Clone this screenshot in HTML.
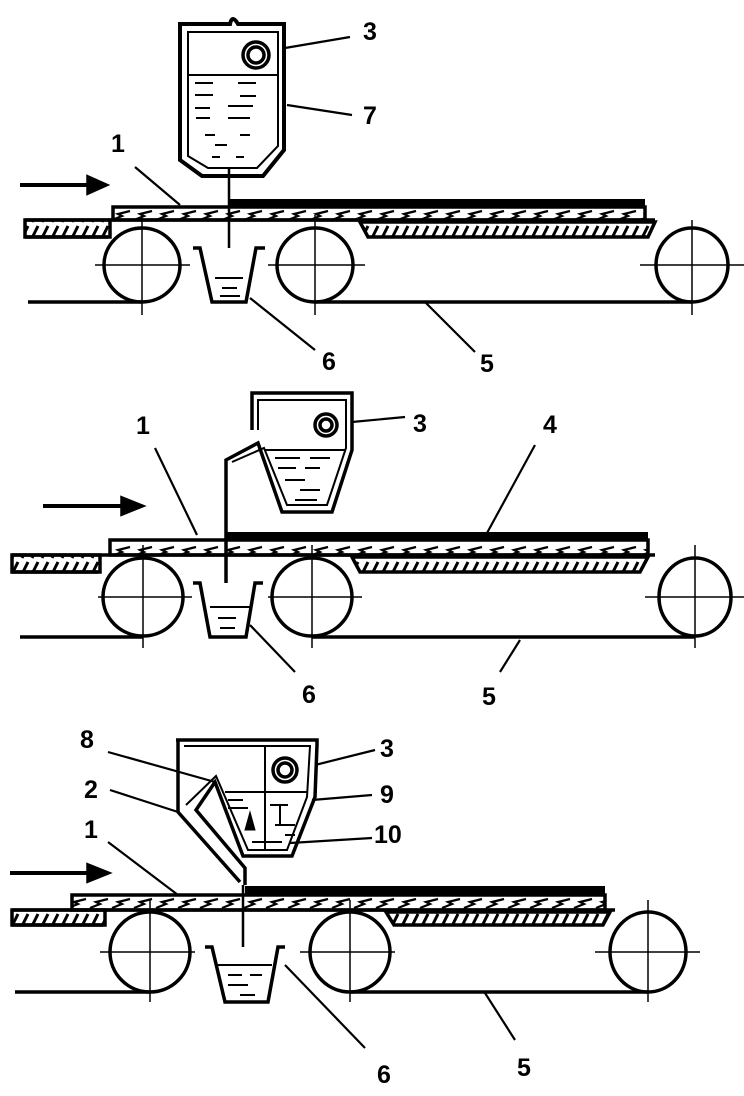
<!DOCTYPE html>
<html><head><style>html,body{margin:0;padding:0;background:#fff}svg{display:block}
text{font-family:"Liberation Sans",sans-serif;font-weight:bold;font-size:25px;fill:#000}</style></head>
<body>
<svg width="744" height="1096" viewBox="0 0 744 1096" xmlns="http://www.w3.org/2000/svg">
<defs>
<pattern id="h" width="10" height="16" patternUnits="userSpaceOnUse"><line x1="2" y1="14" x2="8" y2="2" stroke="#000" stroke-width="3"/></pattern>
<pattern id="w" width="22" height="16" patternUnits="userSpaceOnUse"><path d="M2 12 L12 8 L8 6 L20 3" stroke="#000" stroke-width="2.2" fill="none"/></pattern>
</defs>
<g stroke="#000" fill="none" stroke-width="3.5">
<!-- ===== Panel 1 ===== -->
<path d="M20 185 H95" stroke-width="4"/><path d="M88 177 L106 185 L88 193 Z" fill="#000"/>
<path d="M180 24 H230 Q232 14 238 24 H284 V150 L263 176 H202 L180 160 Z" stroke-width="4"/>
<path d="M188 32 H278 V146 L257 168 H208 L188 156 Z" stroke-width="2"/>
<circle cx="256" cy="55" r="13"/><circle cx="256" cy="55" r="8"/>
<line x1="188" y1="75" x2="278" y2="75" stroke-width="2"/>
<g stroke-width="2"><path d="M195 83h18M238 83h18M195 95h18M240 96h16M195 108h15M228 106h25M196 118h14M228 118h22M205 135h10M240 135h10M215 145h12M212 157h8M236 157h8"/></g>
<line x1="229" y1="168" x2="229" y2="290" stroke-width="2.5"/>
<rect x="25" y="220" width="85" height="17" fill="url(#h)"/>
<path d="M25 220 H655 M25 237 H108" />
<path d="M360 222 L368 237 H648 L655 222 Z" fill="url(#h)"/>
<rect x="113" y="207" width="532" height="13" fill="url(#w)"/>
<rect x="228" y="199" width="417" height="8" fill="#000" stroke="none"/>
<ellipse cx="142" cy="265" rx="38" ry="37"/><ellipse cx="315" cy="265" rx="38" ry="37"/><ellipse cx="692" cy="265" rx="36" ry="37"/>
<path d="M28 302 H142 M315 302 H692"/>
<g stroke-width="1.5"><path d="M95 265H190M142 215V315M268 265H365M315 215V315M640 265H744M692 220V315"/></g>
<path d="M193 248 H200 L212 302 H246 L256 248 H265" fill="#fff"/>
<path d="M215 278 H243" stroke-width="2"/><path d="M222 288h15M220 296h20" stroke-width="2"/>
<g stroke-width="2.2"><path d="M285 48 L350 37M287 105 L352 115M135 167 L180 205M250 298 L315 350M425 302 L475 352"/></g>
<!-- ===== Panel 2 ===== -->
<path d="M43 506 H128" stroke-width="4"/><path d="M122 498 L142 506 L122 514 Z" fill="#000"/>
<path d="M252 430 V393 H352 V450 L332 512 H282 L258 443 L226 460 V635" stroke-width="3.5"/>
<path d="M258 430 V400 H346 V448 L327 505 H287 L264 448 L232 462" stroke-width="2"/>
<circle cx="326" cy="425" r="11"/><circle cx="326" cy="425" r="6"/>
<line x1="264" y1="450" x2="346" y2="450" stroke-width="2"/>
<g stroke-width="2"><path d="M275 458h25M310 458h20M278 468h18M305 468h15M285 480h20M300 490h20M295 500h22"/></g>
<rect x="12" y="555" width="88" height="17" fill="url(#h)"/>
<path d="M12 555 H655 M12 572 H98"/>
<path d="M352 557 L360 572 H640 L648 557 Z" fill="url(#h)"/>
<rect x="110" y="540" width="538" height="15" fill="url(#w)"/>
<rect x="226" y="532" width="422" height="8" fill="#000" stroke="none"/>
<ellipse cx="143" cy="597" rx="40" ry="39"/><ellipse cx="312" cy="597" rx="40" ry="39"/><ellipse cx="695" cy="597" rx="36" ry="39"/>
<path d="M20 637 H143 M312 637 H695"/>
<g stroke-width="1.5"><path d="M98 597H192M143 545V648M268 597H362M312 545V648M645 597H744M695 545V648"/></g>
<path d="M193 583 H200 L210 637 H246 L255 583 H263" fill="#fff"/>
<path d="M210 607 H250" stroke-width="2"/><path d="M218 618h18M220 628h15" stroke-width="2"/>
<g stroke-width="2.2"><path d="M155 448 L197 535M352 422 L405 417M535 445 L487 533M250 625 L295 672M520 640 L500 672"/></g>
<!-- ===== Panel 3 ===== -->
<path d="M10 873 H92" stroke-width="4"/><path d="M88 865 L108 873 L88 881 Z" fill="#000"/>
<path d="M176 740 H317 V745 L315 797 L292 856 H243 L215 782 L196 810 L245 868 V885" stroke-width="3.5"/>
<path d="M178 740 V812 L240 882" stroke-width="3.5"/>
<path d="M184 746 H310 L307 797 L287 850 H248 L216 776 L186 805" stroke-width="2"/>
<line x1="265" y1="746" x2="265" y2="850" stroke-width="2"/>
<circle cx="285" cy="770" r="12"/><circle cx="285" cy="770" r="7"/>
<line x1="225" y1="792" x2="307" y2="792" stroke-width="2"/>
<g stroke-width="2"><path d="M228 800h15M228 808h20M270 805h18M280 805v20M275 825h20M285 835h10M252 842h30"/></g>
<path d="M245 830 L250 812 L255 830 Z" fill="#000" stroke-width="1"/>
<rect x="12" y="910" width="93" height="15" fill="url(#h)"/>
<path d="M12 910 H615 M12 925 H103"/>
<path d="M386 912 L394 925 H603 L610 912 Z" fill="url(#h)"/>
<rect x="72" y="895" width="533" height="15" fill="url(#w)"/>
<rect x="245" y="886" width="360" height="9" fill="#000" stroke="none"/>
<ellipse cx="150" cy="952" rx="40" ry="40"/><ellipse cx="350" cy="952" rx="40" ry="40"/><ellipse cx="648" cy="952" rx="38" ry="40"/>
<path d="M15 992 H150 M350 992 H648"/>
<g stroke-width="1.5"><path d="M100 952H195M150 900V1002M300 952H395M350 900V1002M595 952H700M648 900V1002"/></g>
<line x1="243" y1="885" x2="243" y2="965" stroke-width="2.5"/>
<path d="M205 947 H212 L225 1002 H268 L278 947 H285" fill="#fff"/>
<path d="M218 965 H272" stroke-width="2"/><path d="M228 975h14M250 975h12M228 985h20M240 995h15" stroke-width="2"/>
<g stroke-width="2.2"><path d="M108 752 L215 782M315 765 L375 750M110 790 L178 812M312 800 L372 795M290 843 L372 838M108 842 L178 895M285 965 L365 1048M485 993 L515 1040"/></g>
</g>
<text x="363" y="40">3</text><text x="363" y="124">7</text><text x="111" y="152">1</text>
<text x="322" y="370">6</text><text x="480" y="372">5</text>
<text x="136" y="434">1</text><text x="413" y="432">3</text><text x="543" y="433">4</text>
<text x="302" y="703">6</text><text x="482" y="705">5</text>
<text x="80" y="748">8</text><text x="380" y="757">3</text><text x="84" y="798">2</text>
<text x="380" y="803">9</text><text x="374" y="843">10</text><text x="84" y="838">1</text>
<text x="377" y="1083">6</text><text x="517" y="1076">5</text>
</svg>
</body></html>
